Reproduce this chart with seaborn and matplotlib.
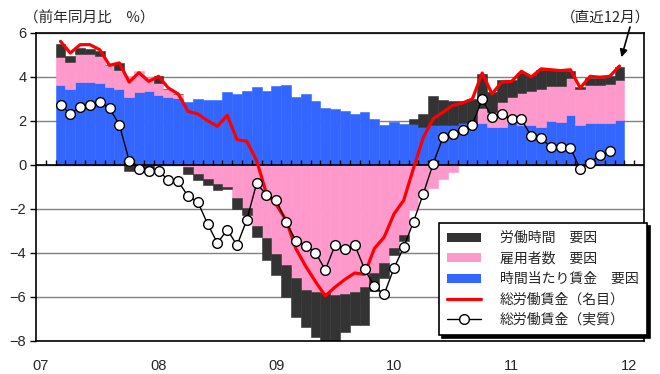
import numpy as np
import pandas as pd
import matplotlib
matplotlib.use("Agg")
import matplotlib.pyplot as plt
from matplotlib.patches import Patch
from matplotlib.lines import Line2D
import seaborn as sns

# Monthly series, March 2007 - December 2011 (year-on-year, %)
months = pd.date_range("2007-03-01", "2011-12-01", freq="MS")

# 時間当たり賃金 要因
wage_factor = [3.65, 3.45, 3.77, 3.76, 3.71, 3.56, 3.45, 3.09, 3.33, 3.38,
               3.18, 3.08, 3.03, 2.88, 3.00, 2.95, 2.95, 3.33, 3.23, 3.38,
               3.53, 3.38, 3.59, 3.64, 3.10, 3.23, 2.91, 2.60, 2.55, 2.45,
               2.32, 2.39, 2.09, 1.82, 1.94, 1.86, 1.86, 1.74, 1.80, 1.82,
               1.82, 1.89, 1.78, 1.91, 1.74, 1.74, 1.91, 1.80, 1.80, 1.73,
               1.98, 1.95, 2.26, 1.80, 1.91, 1.91, 1.91, 2.06]
# 雇用者数 要因
employ_factor = [1.26, 1.22, 1.28, 1.29, 1.23, 0.97, 0.87, 0.95, 0.95, 0.60,
                 0.55, 0.38, 0.18, -0.10, -0.39, -0.64, -0.85, -1.00, -1.50, -1.97,
                 -2.75, -3.30, -4.05, -4.55, -5.15, -5.68, -5.76, -5.83, -5.90, -5.85,
                 -5.76, -5.55, -4.92, -4.45, -3.78, -3.17, -2.05, -1.36, -1.06, -0.62,
                 -0.31, 0.02, 0.15, 0.68, 0.65, 1.12, 1.17, 1.47, 1.55, 1.72,
                 1.60, 1.63, 1.69, 1.65, 1.73, 1.73, 1.76, 1.80]
# 労働時間 要因
hours_factor = [0.61, 0.27, 0.27, 0.24, 0.26, 0.00, 0.33, -0.28, -0.20, -0.20,
                0.30, 0.00, 0.00, -0.30, -0.28, -0.25, -0.28, -0.10, -0.50, -0.30,
                -0.53, -1.00, -0.95, -1.45, -1.75, -1.67, -2.04, -2.27, -2.13, -1.75,
                -1.50, -1.72, -0.82, -0.70, -0.32, -0.30, 0.25, 0.60, 1.34, 1.15,
                1.10, 1.00, 1.05, 1.55, 0.95, 1.02, 0.80, 0.91, 0.72, 0.88,
                0.75, 0.75, 0.34, 0.10, 0.31, 0.33, 0.36, 0.58]
# 総労働賃金（名目）
nominal = [5.62, 5.09, 5.47, 5.47, 5.24, 4.53, 4.64, 3.77, 4.20, 3.80,
           4.03, 3.50, 3.23, 2.44, 2.32, 2.01, 1.76, 2.26, 1.15, 1.08,
           0.20, -1.30, -1.80, -2.50, -3.80, -4.60, -5.30, -5.95, -5.55, -5.20,
           -4.91, -4.97, -3.80, -3.28, -2.23, -1.60, -0.14, 1.26, 2.10, 2.40,
           2.71, 2.82, 3.00, 4.18, 3.23, 3.77, 3.80, 4.26, 4.00, 4.37,
           4.33, 4.29, 4.33, 3.50, 4.03, 3.99, 4.03, 4.50]
# 総労働賃金（実質）, through November 2011
real = [2.74, 2.32, 2.64, 2.73, 2.86, 2.58, 1.83, 0.20, -0.17, -0.29,
        -0.29, -0.67, -0.74, -1.42, -1.68, -2.68, -3.55, -2.94, -3.65, -2.49,
        -0.83, -1.36, -1.59, -2.58, -3.45, -3.68, -3.98, -4.77, -3.64, -3.83,
        -3.63, -4.72, -5.52, -5.88, -4.69, -3.74, -2.57, -1.30, 0.06, 1.26,
        1.43, 1.60, 1.84, 3.00, 2.16, 2.31, 2.07, 2.07, 1.31, 1.22,
        0.80, 0.82, 0.78, -0.20, 0.11, 0.44, 0.63]

year_labels = ["07", "08", "09", "10", "11", "12"]
legend_labels = ["労働時間　要因", "雇用者数　要因", "時間当たり賃金　要因",
                 "総労働賃金（名目）", "総労働賃金（実質）"]

C_HOURS = "#333333"
C_EMPLOY = "#FF99CC"
C_WAGE = "#3366FF"
C_NOMINAL = "#FF0000"

sns.set_theme(style="white")
plt.rcParams["font.family"] = ["Noto Sans CJK JP", "DejaVu Sans"]
plt.rcParams["axes.unicode_minus"] = True

# month index counted from January 2007; bars sit in the middle of each month slot
midx = (months.year - 2007) * 12 + (months.month - 1)
xc = midx + 0.5

df = pd.DataFrame({"x": xc, "wage": wage_factor, "employ": employ_factor,
                   "hours": hours_factor, "nominal": nominal})
df_real = pd.DataFrame({"x": xc[:len(real)], "real": real})

fig = plt.figure(figsize=(6.6, 3.74), dpi=100)
ax = fig.add_axes([36 / 660, 1 - 341 / 374, 608 / 660, 308 / 374])

# stacked bars: positives stack up from zero, negatives stack down from zero
pos_base = np.zeros(len(df))
neg_base = np.zeros(len(df))
for col, color in [("wage", C_WAGE), ("employ", C_EMPLOY), ("hours", C_HOURS)]:
    vals = df[col].to_numpy()
    bottoms = np.where(vals >= 0, pos_base, neg_base)
    ax.bar(df["x"], vals, bottom=bottoms, width=1.0, color=color,
           edgecolor=color, linewidth=0.4, zorder=2)
    pos_base = pos_base + np.where(vals >= 0, vals, 0)
    neg_base = neg_base + np.where(vals < 0, vals, 0)

# zero line with month tick marks
ax.axhline(0, color="black", lw=1.2, zorder=4)
ax.vlines(np.arange(1, 62), 0, 0.21, color="black", lw=1.0, zorder=4)

sns.lineplot(data=df, x="x", y="nominal", ax=ax, color=C_NOMINAL, lw=2.3,
             zorder=5, legend=False)
sns.lineplot(data=df_real, x="x", y="real", ax=ax, color="black", lw=1.0,
             marker="o", markersize=7, markerfacecolor="white",
             markeredgecolor="black", markeredgewidth=1.0, zorder=6, legend=False)

ax.set_xlim(0, 62)
ax.set_ylim(-8, 6)
ax.set_xlabel("")
ax.set_ylabel("")
ax.set_yticks(range(-8, 7, 2))
ax.set_yticklabels([str(v) if v >= 0 else "\u2212" + str(-v) for v in range(-8, 7, 2)],
                   family="Liberation Sans", fontsize=10.5)
ax.set_xticks([0.5 + 12 * k for k in range(len(year_labels))])
ax.set_xticklabels(year_labels, family="Liberation Sans", fontsize=10.5)
ax.tick_params(axis="y", direction="out", length=4, width=1, color="black",
               pad=3, left=True)
ax.tick_params(axis="x", length=0, pad=13)
ax.yaxis.grid(True, color="#808080", lw=1.0, zorder=0)
ax.xaxis.grid(False)
ax.set_axisbelow(True)
for sp in ax.spines.values():
    sp.set_visible(True)
    sp.set_color("black")
    sp.set_linewidth(1.2)
    sp.set_zorder(7)

fig.text(24 / 660, 1 - 18 / 374, "（前年同月比　%）", fontsize=10.5,
         ha="left", va="center")
fig.text(606 / 660, 1 - 18 / 374, "（直近12月）", fontsize=10.5,
         ha="center", va="center")
ax.annotate("", xy=(59.7, 4.9), xycoords="data",
            xytext=(630, 374 - 27), textcoords="figure pixels",
            arrowprops=dict(arrowstyle="-|>", color="black", lw=1.2,
                            mutation_scale=11, shrinkA=0, shrinkB=0))

handles = [Patch(facecolor=C_HOURS, edgecolor="none"),
           Patch(facecolor=C_EMPLOY, edgecolor="none"),
           Patch(facecolor=C_WAGE, edgecolor="none"),
           Line2D([], [], color=C_NOMINAL, lw=2.3),
           Line2D([], [], color="black", lw=1.0, marker="o", markersize=7,
                  markerfacecolor="white", markeredgecolor="black")]
leg = fig.legend(handles, legend_labels, loc="upper left",
                 bbox_to_anchor=(439 / 660, 1 - 223 / 374),
                 bbox_transform=fig.transFigure, borderaxespad=0,
                 frameon=True, fancybox=False, framealpha=1,
                 shadow={"color": "black", "alpha": 1},
                 fontsize=10, handlelength=2.4, handleheight=0.6,
                 handletextpad=1.4, labelspacing=0.46, borderpad=0.6,
                 numpoints=1)
leg.get_frame().set_edgecolor("black")
leg.get_frame().set_linewidth(1.2)

fig.savefig("out.png", dpi=100)
